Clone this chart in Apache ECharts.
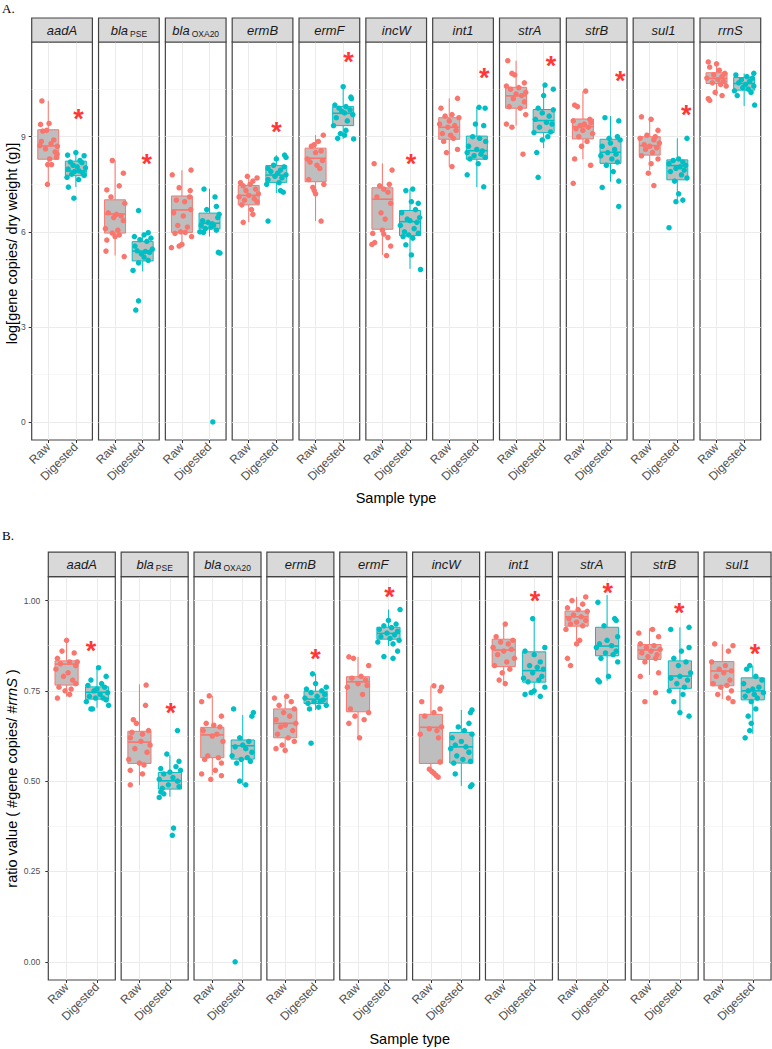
<!DOCTYPE html>
<html><head><meta charset="utf-8">
<script src="https://cdn.jsdelivr.net/npm/echarts@6/dist/echarts.min.js"></script>
<style>html,body{margin:0;padding:0;background:#fff}#c{width:772px;height:1049px}</style>
</head><body><div id="c"></div>
<script>
// ---------------- DATA ----------------
const CATEGORIES = ['Raw', 'Digested'];
const GENES_A = ['aadA','blaPSE','blaOXA20','ermB','ermF','incW','int1','strA','strB','sul1','rrnS'];
const GENES_B = ['aadA','blaPSE','blaOXA20','ermB','ermF','incW','int1','strA','strB','sul1'];
const TICKS_A = [0, 3, 6, 9];
const MINOR_A = [1.5, 4.5, 7.5, 10.5];
const TICKS_B = [0, 0.25, 0.5, 0.75, 1];
const MINOR_B = [0.125, 0.375, 0.625, 0.875];

// box stats: [lower whisker, Q1, median, Q3, upper whisker]
const BOX_A_RAW = [
  [7.48,8.29,8.71,9.22,10.13],[5.25,5.96,6.56,7.01,8.26],[5.57,5.98,6.69,7.13,7.94],[6.30,6.85,7.15,7.46,7.75],
  [6.34,7.58,8.32,8.64,9.05],[5.27,6.08,7.03,7.39,8.16],[8.06,8.92,9.30,9.60,10.21],[9.35,9.90,10.29,10.56,11.40],
  [8.29,8.93,9.32,9.56,10.44],[7.95,8.42,8.72,9.00,9.63],[10.29,10.68,10.84,11.02,11.36]];
const BOX_A_DIG = [
  [7.41,7.77,7.92,8.23,8.48],[4.75,5.08,5.39,5.69,5.97],[5.85,6.09,6.27,6.59,7.36],[7.22,7.56,7.79,8.09,8.42],
  [8.93,9.35,9.74,9.95,10.58],[4.83,5.88,6.32,6.67,7.35],[7.41,8.29,8.56,9.02,9.93],[8.64,9.13,9.51,9.86,10.63],
  [7.58,8.16,8.51,8.92,9.65],[6.93,7.64,8.09,8.27,8.95],[9.97,10.47,10.68,10.87,11.00]];

// jittered points: [offset from category, value]
const PTS_A_RAW = [
  [[-0.23,10.13],[-0.28,9.39],[0.03,9.42],[-0.06,9.2],[-0.2,9.18],[-0.3,8.72],[0.33,8.7],[0.25,8.52],[0.32,8.45],[0.05,8.3],[-0.02,8.12],[0.12,8.12],[-0.1,8.62],[0.2,8.9],[-0.25,8.85],[0.1,8.78],[-0.03,7.5],[0.3,8.35]],
  [[-0.1,8.25],[0.3,7.85],[-0.3,7.32],[0.15,7.45],[-0.15,7.1],[0.35,6.9],[-0.25,6.6],[0.05,6.55],[0.22,6.5],[-0.05,6.45],[0.3,6.35],[-0.35,6.1],[0.1,6.05],[-0.1,5.96],[0.15,5.9],[-0.3,5.74],[0.33,5.22],[-0.33,5.39],[0.0,5.85]],
  [[0.33,7.95],[-0.35,7.8],[-0.1,7.39],[0.3,7.3],[0.28,7.1],[-0.2,7.0],[0.1,6.95],[0.32,6.7],[-0.3,6.6],[0.05,6.5],[-0.15,6.2],[0.2,6.15],[-0.05,6.0],[0.12,5.98],[-0.25,5.95],[0.35,5.85],[-0.38,5.5],[-0.1,5.55],[0.0,5.6]],
  [[-0.05,7.75],[0.3,7.7],[0.15,7.6],[-0.3,7.55],[0.05,7.5],[-0.2,7.45],[0.25,7.35],[-0.1,7.3],[0.35,7.2],[0.0,7.15],[-0.35,7.1],[0.2,7.05],[-0.15,7.0],[0.3,6.95],[-0.25,6.85],[0.1,6.7],[0.15,6.55],[-0.2,6.3]],
  [[0.28,9.05],[0.1,8.85],[-0.05,8.75],[-0.15,8.7],[0.2,8.55],[0.0,8.5],[-0.3,8.3],[0.25,8.25],[-0.2,8.2],[0.05,8.1],[0.15,8.0],[-0.25,7.65],[0.3,7.5],[-0.1,7.4],[-0.05,7.3],[0.0,7.2],[0.2,6.34]],
  [[-0.3,8.15],[0.35,7.95],[0.25,7.5],[-0.1,7.45],[0.05,7.35],[0.2,7.25],[-0.2,7.1],[0.3,6.9],[-0.05,6.6],[0.1,6.4],[0.0,6.05],[-0.35,5.95],[-0.28,5.66],[0.2,5.82],[0.15,5.25],[-0.38,5.6],[0.3,5.55],[0.05,5.93]],
  [[0.3,10.21],[-0.3,9.9],[0.1,9.7],[-0.15,9.65],[0.35,9.6],[0.0,9.5],[-0.35,9.4],[0.2,9.35],[-0.05,9.3],[0.25,9.2],[-0.25,9.1],[0.05,9.05],[0.15,8.95],[-0.2,8.85],[0.3,8.6],[-0.1,8.5],[0.1,8.06]],
  [[-0.3,11.4],[-0.15,11.0],[-0.05,10.95],[0.3,10.7],[-0.35,10.6],[0.1,10.55],[-0.2,10.5],[0.35,10.4],[0.0,10.35],[0.2,10.3],[-0.1,10.2],[0.3,10.1],[-0.25,9.95],[0.15,9.9],[0.35,9.7],[-0.35,9.4],[-0.15,9.3],[0.25,8.45]],
  [[0.1,10.44],[-0.3,10.0],[-0.2,9.95],[0.25,9.55],[-0.35,9.5],[0.3,9.45],[0.05,9.4],[-0.1,9.35],[0.2,9.3],[-0.25,9.25],[0.0,9.2],[0.35,9.1],[-0.15,9.0],[0.15,8.85],[-0.05,8.7],[-0.3,8.3],[0.28,8.1],[-0.35,7.53]],
  [[-0.3,9.63],[0.05,9.55],[0.3,9.2],[-0.1,9.05],[0.2,9.0],[-0.35,8.95],[0.15,8.9],[0.35,8.8],[-0.2,8.75],[0.0,8.7],[0.25,8.65],[-0.15,8.6],[0.1,8.5],[-0.3,8.4],[0.3,8.3],[0.05,8.15],[-0.05,7.85],[0.15,7.46]],
  [[-0.3,11.36],[0.0,11.3],[-0.25,11.2],[0.1,11.1],[0.3,11.0],[-0.1,10.95],[0.2,10.9],[-0.35,10.85],[0.05,10.8],[0.25,10.75],[-0.15,10.7],[0.15,10.65],[0.35,10.6],[-0.05,10.4],[0.2,10.3],[-0.3,10.2],[-0.25,10.15]]
];
const PTS_A_DIG = [
  [[0.0,8.5],[-0.3,8.42],[0.3,8.4],[0.15,8.25],[-0.2,8.2],[0.22,8.18],[-0.1,8.1],[0.05,8.05],[0.35,8.02],[-0.28,7.98],[0.12,7.92],[-0.05,7.9],[0.25,7.86],[-0.15,7.82],[0.3,7.78],[-0.32,7.72],[0.1,7.65],[-0.27,7.41],[-0.07,7.06]],
  [[-0.15,6.67],[0.2,5.97],[0.05,5.9],[-0.3,5.85],[0.3,5.8],[-0.1,5.75],[0.15,5.7],[-0.28,5.55],[0.35,5.45],[-0.2,5.4],[0.1,5.38],[0.25,5.35],[-0.05,5.3],[0.05,5.2],[0.2,5.1],[-0.15,5.02],[-0.35,4.78],[-0.15,3.82],[-0.25,3.53]],
  [[-0.2,7.35],[0.2,7.1],[0.25,6.8],[-0.1,6.7],[0.35,6.55],[0.3,6.45],[-0.25,6.35],[-0.05,6.3],[0.1,6.25],[-0.3,6.2],[0.15,6.2],[0.05,6.15],[-0.15,6.1],[0.25,6.05],[-0.35,6.0],[-0.22,5.98],[0.32,5.35],[0.38,5.33],[0.12,0.0]],
  [[0.3,8.42],[0.35,8.35],[0.0,8.3],[-0.1,8.1],[0.28,8.05],[-0.3,8.0],[0.15,7.95],[-0.2,7.9],[0.05,7.85],[0.35,7.8],[-0.05,7.75],[0.2,7.7],[-0.3,7.65],[0.1,7.55],[-0.35,7.5],[0.15,7.3],[0.25,7.25],[-0.3,6.34]],
  [[0.0,10.58],[0.28,10.25],[0.3,10.2],[-0.3,10.0],[0.1,9.95],[-0.15,9.9],[0.25,9.85],[-0.05,9.8],[0.05,9.75],[0.35,9.7],[-0.25,9.6],[0.15,9.5],[-0.35,9.35],[0.1,9.2],[-0.1,9.1],[0.05,9.05],[-0.2,8.95],[0.38,8.93]],
  [[0.1,7.35],[-0.15,7.3],[0.05,6.95],[0.3,6.9],[0.2,6.7],[-0.3,6.6],[0.35,6.45],[-0.1,6.4],[0.0,6.35],[0.25,6.3],[-0.35,6.2],[0.15,6.1],[-0.2,6.0],[0.3,5.95],[-0.05,5.9],[-0.25,5.85],[0.1,5.8],[-0.15,5.59],[0.05,5.27],[0.38,4.81]],
  [[0.08,9.93],[0.3,9.9],[-0.05,9.4],[0.25,9.35],[-0.15,9.0],[0.1,8.95],[0.32,8.85],[-0.3,8.7],[0.0,8.6],[0.2,8.55],[-0.35,8.5],[0.15,8.45],[-0.1,8.4],[0.3,8.35],[-0.25,8.3],[0.05,8.15],[-0.35,7.8],[0.25,7.42]],
  [[0.05,10.63],[0.35,10.5],[0.0,10.3],[-0.2,9.9],[0.35,9.85],[-0.05,9.75],[0.2,9.65],[-0.3,9.55],[0.1,9.45],[0.3,9.4],[-0.15,9.3],[0.25,9.15],[-0.35,9.13],[0.15,9.0],[-0.05,8.9],[-0.25,8.5],[-0.2,7.72]],
  [[-0.2,9.6],[0.3,9.5],[0.25,9.0],[-0.05,8.95],[0.35,8.9],[0.0,8.8],[-0.3,8.7],[0.15,8.6],[-0.1,8.5],[0.2,8.45],[-0.35,8.4],[0.05,8.3],[0.25,8.2],[-0.15,8.1],[0.1,7.9],[0.3,7.6],[-0.3,7.4],[0.3,6.8]],
  [[0.35,8.95],[0.05,8.3],[-0.15,8.25],[0.2,8.2],[-0.3,8.15],[0.3,8.1],[0.1,8.05],[-0.05,8.0],[0.25,7.95],[-0.25,7.9],[0.15,7.8],[0.35,7.7],[-0.1,7.6],[0.05,7.2],[0.2,7.0],[-0.05,6.95],[-0.3,6.13]],
  [[0.35,11.0],[-0.3,10.95],[0.1,10.9],[0.3,10.85],[-0.1,10.8],[0.2,10.75],[-0.2,10.7],[0.05,10.65],[0.35,10.6],[-0.05,10.55],[0.15,10.5],[-0.35,10.45],[0.25,10.4],[-0.25,10.3],[0.38,10.0]]
];
// significance asterisks: [x, y] or null
const STAR_A = [[2.10,9.76],[2.15,8.32],null,[2.01,9.35],[2.19,11.54],[2.04,8.32],[2.27,11.05],[2.27,11.42],[2.35,10.95],[2.32,9.89],null];

const BOX_B_RAW = [
  [0.734,0.766,0.824,0.833,0.893],[0.489,0.549,0.608,0.638,0.768],[0.517,0.565,0.628,0.649,0.736],[0.583,0.620,0.660,0.700,0.734],
  [0.619,0.692,0.775,0.789,0.844],[0.522,0.549,0.649,0.685,0.764],[0.766,0.817,0.863,0.893,0.935],[0.887,0.929,0.955,0.971,1.010],
  [0.794,0.837,0.863,0.878,0.923],[0.727,0.764,0.805,0.831,0.879]];
const BOX_B_DIG = [
  [0.703,0.727,0.746,0.761,0.814],[0.457,0.478,0.501,0.524,0.572],[0.489,0.561,0.598,0.614,0.683],[0.697,0.715,0.727,0.749,0.797],
  [0.874,0.893,0.909,0.926,0.975],[0.487,0.550,0.595,0.635,0.697],[0.738,0.774,0.806,0.858,0.950],[0.778,0.847,0.874,0.926,1.015],
  [0.685,0.757,0.791,0.833,0.926],[0.631,0.725,0.750,0.786,0.819]];
const PTS_B_RAW = [
  [[0.0,0.89],[-0.15,0.86],[0.25,0.855],[-0.3,0.84],[0.35,0.83],[0.1,0.83],[-0.2,0.825],[0.3,0.82],[-0.35,0.81],[0.05,0.80],[-0.1,0.79],[0.2,0.78],[0.3,0.77],[-0.25,0.76],[0.15,0.755],[-0.05,0.75],[0.1,0.74],[-0.3,0.73]],
  [[0.22,0.766],[0.2,0.71],[-0.2,0.67],[-0.1,0.66],[0.3,0.64],[-0.25,0.635],[0.1,0.63],[-0.3,0.62],[0.05,0.61],[0.35,0.60],[-0.15,0.59],[0.25,0.58],[-0.35,0.56],[0.0,0.55],[0.15,0.545],[-0.3,0.53],[0.1,0.52],[-0.3,0.49]],
  [[-0.1,0.736],[-0.35,0.72],[0.3,0.68],[-0.2,0.66],[0.05,0.655],[0.25,0.65],[-0.3,0.64],[0.15,0.63],[0.0,0.625],[0.35,0.61],[-0.15,0.57],[0.2,0.565],[-0.25,0.56],[0.3,0.55],[0.1,0.53],[-0.35,0.52],[0.3,0.515],[-0.05,0.505]],
  [[0.05,0.735],[-0.35,0.73],[0.2,0.72],[-0.2,0.71],[0.3,0.70],[-0.05,0.69],[0.15,0.68],[-0.3,0.67],[0.35,0.66],[0.0,0.655],[-0.15,0.65],[0.25,0.64],[-0.25,0.63],[0.1,0.62],[0.3,0.61],[-0.1,0.60],[-0.3,0.59],[0.0,0.585]],
  [[-0.3,0.844],[-0.15,0.84],[0.35,0.82],[0.1,0.79],[-0.2,0.785],[0.25,0.78],[0.0,0.77],[0.3,0.765],[-0.35,0.76],[0.15,0.74],[-0.25,0.70],[0.35,0.69],[-0.1,0.68],[0.2,0.67],[-0.3,0.66],[0.05,0.62]],
  [[0.1,0.764],[0.35,0.76],[0.3,0.75],[-0.3,0.72],[0.3,0.70],[0.1,0.69],[-0.2,0.68],[0.35,0.65],[-0.05,0.645],[0.2,0.64],[-0.35,0.63],[0.25,0.62],[-0.05,0.533],[0.03,0.527],[0.1,0.522],[0.17,0.516],[0.24,0.511],[0.3,0.553]],
  [[0.05,0.935],[-0.25,0.90],[0.3,0.89],[-0.1,0.885],[0.15,0.88],[-0.35,0.87],[0.25,0.865],[0.0,0.86],[-0.2,0.85],[0.35,0.84],[0.1,0.83],[-0.3,0.82],[0.2,0.81],[-0.05,0.80],[-0.15,0.78],[0.05,0.77]],
  [[0.3,1.01],[-0.15,1.0],[0.2,0.99],[-0.3,0.98],[0.05,0.975],[0.35,0.97],[-0.1,0.96],[0.15,0.955],[-0.25,0.95],[0.3,0.945],[0.0,0.94],[-0.2,0.935],[0.2,0.93],[-0.35,0.92],[0.1,0.89],[0.0,0.88],[-0.3,0.84],[-0.2,0.82]],
  [[0.1,0.92],[-0.35,0.91],[0.3,0.90],[-0.3,0.88],[0.15,0.875],[-0.1,0.87],[0.35,0.865],[0.05,0.86],[-0.25,0.855],[0.25,0.85],[-0.05,0.845],[0.2,0.84],[-0.15,0.83],[0.3,0.80],[-0.3,0.79],[0.2,0.745],[-0.15,0.72]],
  [[-0.25,0.88],[0.35,0.875],[0.2,0.86],[-0.35,0.83],[0.1,0.82],[-0.1,0.81],[0.3,0.805],[0.05,0.80],[-0.2,0.79],[0.25,0.78],[-0.3,0.77],[0.15,0.765],[-0.05,0.76],[0.3,0.75],[-0.15,0.74],[0.2,0.73],[0.35,0.72]]
];
const PTS_B_DIG = [
  [[0.05,0.814],[0.3,0.79],[-0.2,0.78],[0.15,0.77],[-0.3,0.765],[0.25,0.76],[0.0,0.755],[-0.1,0.75],[0.35,0.745],[0.1,0.74],[-0.25,0.735],[0.2,0.73],[-0.05,0.73],[0.3,0.725],[-0.35,0.72],[0.38,0.71],[-0.2,0.70],[-0.15,0.70]],
  [[0.25,0.64],[-0.1,0.575],[0.3,0.555],[0.2,0.54],[-0.3,0.535],[0.35,0.53],[0.0,0.525],[-0.2,0.52],[0.1,0.51],[-0.35,0.505],[0.25,0.50],[-0.05,0.49],[0.3,0.485],[-0.25,0.48],[-0.3,0.47],[-0.2,0.465],[-0.35,0.455],[0.12,0.37],[0.08,0.35]],
  [[-0.3,0.70],[0.35,0.69],[0.3,0.68],[-0.1,0.62],[0.2,0.61],[0.0,0.60],[-0.25,0.595],[0.1,0.59],[0.3,0.58],[-0.35,0.57],[0.15,0.565],[-0.05,0.56],[0.25,0.555],[-0.2,0.55],[-0.1,0.50],[0.1,0.49],[-0.25,0.0]],
  [[-0.1,0.797],[0.0,0.77],[0.35,0.76],[-0.3,0.755],[0.2,0.75],[-0.15,0.745],[0.3,0.74],[0.05,0.735],[-0.35,0.73],[0.25,0.725],[-0.05,0.72],[0.15,0.72],[-0.25,0.715],[0.35,0.71],[0.1,0.705],[-0.2,0.70],[-0.15,0.605]],
  [[0.38,0.975],[0.0,0.945],[0.25,0.935],[-0.15,0.93],[0.1,0.925],[-0.3,0.92],[0.3,0.915],[-0.05,0.91],[0.2,0.905],[-0.25,0.90],[0.05,0.895],[0.35,0.89],[-0.35,0.885],[0.15,0.88],[0.3,0.86],[-0.15,0.845],[0.15,0.84]],
  [[0.35,0.697],[0.3,0.69],[0.25,0.66],[-0.1,0.65],[0.1,0.64],[0.35,0.63],[-0.3,0.62],[0.0,0.61],[-0.2,0.60],[0.15,0.595],[-0.35,0.59],[0.25,0.58],[-0.15,0.57],[0.05,0.56],[0.3,0.555],[-0.25,0.55],[-0.2,0.52],[0.35,0.49],[0.3,0.485]],
  [[-0.05,0.95],[0.35,0.87],[-0.3,0.86],[0.0,0.85],[0.2,0.83],[-0.15,0.82],[0.1,0.815],[0.3,0.81],[-0.05,0.80],[0.25,0.79],[-0.35,0.785],[0.15,0.78],[-0.2,0.775],[0.35,0.76],[0.0,0.75],[-0.1,0.745],[-0.3,0.74],[0.2,0.735]],
  [[-0.3,0.995],[0.25,0.95],[0.3,0.945],[-0.1,0.93],[0.35,0.90],[0.0,0.89],[-0.25,0.88],[0.15,0.875],[-0.35,0.87],[0.3,0.86],[-0.05,0.855],[0.2,0.85],[-0.2,0.84],[0.35,0.83],[0.05,0.79],[-0.3,0.78],[-0.25,0.775]],
  [[0.3,0.926],[-0.3,0.92],[0.3,0.87],[0.05,0.86],[-0.2,0.84],[0.2,0.83],[-0.05,0.82],[0.35,0.80],[0.0,0.79],[-0.3,0.785],[0.25,0.78],[-0.1,0.77],[0.15,0.76],[-0.35,0.75],[0.1,0.74],[-0.2,0.72],[0.0,0.69],[0.3,0.68]],
  [[-0.1,0.82],[-0.2,0.81],[0.1,0.79],[0.3,0.78],[-0.3,0.77],[0.2,0.76],[0.0,0.755],[-0.15,0.75],[0.35,0.745],[0.05,0.74],[-0.25,0.735],[0.15,0.73],[-0.05,0.72],[0.1,0.70],[-0.15,0.68],[-0.05,0.66],[-0.1,0.64],[-0.25,0.62]]
];
const STAR_B = [[1.80,0.877],[2.03,0.704],null,[2.00,0.854],[2.03,1.026],null,[2.03,1.015],[2.02,1.038],[1.98,0.981],[2.07,0.868]];

// ---------------- STYLE / LAYOUT ----------------
const COLORS = ['#F8766D', '#00BFC4'];
const BOX_FILL = '#BEBEBE';
const BOX_WIDTH = 0.76;
const FONT = "'Liberation Sans', Arial, sans-serif";
const LAYOUT_A = {left0: 31.7, step: 66.83, width: 60.7, top: 42, height: 398, stripH: 24, min: -0.571, max: 11.99, labelMargin: 6};
const LAYOUT_B = {left0: 48.3, step: 72.86, width: 67, top: 576.7, height: 403.3, stripH: 24.5, min: -0.0505, max: 1.066, labelMargin: 8};

function stripText(g) {
  if (g.indexOf('bla') === 0) return '{i|bla}{s|' + g.slice(3) + '}';
  return '{i|' + g + '}';
}

function renderBox(params, api) {
  const x = api.value(0), g = api.value(6), c = COLORS[g], w = BOX_WIDTH / 2;
  const pl = api.coord([x - w, api.value(2)]);
  const pr = api.coord([x + w, api.value(4)]);
  const plo = api.coord([x, api.value(1)]);
  const yhi = api.coord([x, api.value(5)])[1];
  const ymed = api.coord([x, api.value(3)])[1];
  return {type: 'group', children: [
    {type: 'line', shape: {x1: plo[0], y1: pr[1], x2: plo[0], y2: yhi}, style: {stroke: c, lineWidth: 1}},
    {type: 'line', shape: {x1: plo[0], y1: pl[1], x2: plo[0], y2: plo[1]}, style: {stroke: c, lineWidth: 1}},
    {type: 'rect', shape: {x: pl[0], y: pr[1], width: pr[0] - pl[0], height: pl[1] - pr[1]}, style: {fill: BOX_FILL, stroke: c, lineWidth: 1}},
    {type: 'line', shape: {x1: pl[0], y1: ymed, x2: pr[0], y2: ymed}, style: {stroke: c, lineWidth: 1.6}}
  ]};
}

const grids = [], xAxes = [], yAxes = [], series = [], elements = [];

function addPanel(L, genes, boxRaw, boxDig, ptsRaw, ptsDig, stars, ticks, minor, fmt) {
  genes.forEach((g, k) => {
    const gi = grids.length;
    const left = L.left0 + k * L.step;
    grids.push({left: left, top: L.top, width: L.width, height: L.height, show: true,
      borderColor: '#444444', borderWidth: 1.2, backgroundColor: '#ffffff', containLabel: false, outerBoundsMode: 'none'});
    xAxes.push({gridIndex: gi, type: 'value', min: 0.4, max: 2.6, position: 'bottom',
      axisLine: {show: false, onZero: false},
      axisTick: {show: true, customValues: [1, 2], length: 3, lineStyle: {color: '#333333', width: 1}},
      axisLabel: {customValues: [1, 2], formatter: v => CATEGORIES[Math.round(v) - 1], rotate: 45, margin: 5,
        fontSize: 12, color: '#4D4D4D', fontFamily: FONT},
      splitLine: {show: true, lineStyle: {color: '#EBEBEB', width: 1}}});
    const yi = yAxes.length;
    yAxes.push({gridIndex: gi, type: 'value', min: L.min, max: L.max, position: 'left',
      axisLine: {show: false, onZero: false},
      axisTick: {show: k === 0, customValues: ticks, length: 3, lineStyle: {color: '#333333', width: 1}},
      axisLabel: {show: k === 0, customValues: ticks, formatter: fmt, margin: L.labelMargin, fontSize: 8.5, color: '#4D4D4D', fontFamily: FONT},
      splitLine: {show: true, lineStyle: {color: '#EBEBEB', width: 1}}});
    yAxes.push({gridIndex: gi, type: 'value', min: L.min, max: L.max, position: 'left',
      axisLine: {show: false, onZero: false},
      axisTick: {show: false, customValues: minor},
      axisLabel: {show: false, customValues: minor},
      splitLine: {show: true, lineStyle: {color: '#F1F1F1', width: 0.6}}});
    series.push({type: 'custom', xAxisIndex: gi, yAxisIndex: yi, z: 2, silent: true,
      encode: {x: 0, y: [1, 2, 3, 4, 5]},
      data: [[1].concat(boxRaw[k], [0]), [2].concat(boxDig[k], [1])],
      renderItem: renderBox});
    [ptsRaw[k], ptsDig[k]].forEach((pts, gIdx) => {
      series.push({type: 'scatter', xAxisIndex: gi, yAxisIndex: yi, z: 3, silent: true,
        symbolSize: 5.5, itemStyle: {color: COLORS[gIdx], opacity: 1},
        data: pts.map(p => [gIdx + 1 + p[0], p[1]])});
    });
    if (stars[k]) {
      series.push({type: 'scatter', xAxisIndex: gi, yAxisIndex: yi, z: 4, silent: true,
        symbolSize: 1, itemStyle: {color: 'rgba(0,0,0,0)'},
        label: {show: true, formatter: '*', position: 'inside', offset: [0, 6], fontSize: 27, fontWeight: 'bold', color: '#FF0000', fontFamily: FONT},
        data: [stars[k]]});
    }
    elements.push({type: 'rect', shape: {x: left, y: L.top - L.stripH, width: L.width, height: L.stripH},
      style: {fill: '#D9D9D9', stroke: '#444444', lineWidth: 1.2}, z: 10});
    elements.push({type: 'text', x: left + L.width / 2, y: L.top - L.stripH / 2, z: 11,
      style: {text: stripText(g), align: 'center', verticalAlign: 'middle',
        rich: {
          i: {fontStyle: 'italic', fontSize: 13, fontFamily: FONT, fill: '#1A1A1A', lineHeight: 16},
          s: {fontSize: 8.5, fontFamily: FONT, fill: '#1A1A1A', lineHeight: 8, verticalAlign: 'bottom', padding: [0, 0, 0, 2]}
        }}});
  });
}

addPanel(LAYOUT_A, GENES_A, BOX_A_RAW, BOX_A_DIG, PTS_A_RAW, PTS_A_DIG, STAR_A, TICKS_A, MINOR_A, v => String(v));
addPanel(LAYOUT_B, GENES_B, BOX_B_RAW, BOX_B_DIG, PTS_B_RAW, PTS_B_DIG, STAR_B, TICKS_B, MINOR_B, v => v.toFixed(2));

// titles
const titleStyle = {fontSize: 14.5, fontFamily: FONT, fill: '#000000'};
elements.push({type: 'text', x: 2, y: 8, style: {text: 'A.', fontSize: 13, fontFamily: "'Liberation Serif', 'Times New Roman', serif", fill: '#000', align: 'left', verticalAlign: 'middle'}});
elements.push({type: 'text', x: 2, y: 535, style: {text: 'B.', fontSize: 13, fontFamily: "'Liberation Serif', 'Times New Roman', serif", fill: '#000', align: 'left', verticalAlign: 'middle'}});
elements.push({type: 'text', x: 11.5, y: 243.5, rotation: Math.PI / 2,
  style: Object.assign({text: 'log[gene copies/ dry weight (g)]', align: 'center', verticalAlign: 'middle'}, titleStyle)});
elements.push({type: 'text', x: 12, y: 778.5, rotation: Math.PI / 2,
  style: {text: '{n|ratio value ( #gene copies/ #}{i|rrnS}{n| )}', align: 'center', verticalAlign: 'middle',
    rich: {n: {fontSize: 14.5, fontFamily: FONT, fill: '#000'}, i: {fontSize: 14.5, fontFamily: FONT, fontStyle: 'italic', fill: '#000'}}}});
elements.push({type: 'text', x: 396, y: 498, style: Object.assign({text: 'Sample type', align: 'center', verticalAlign: 'middle'}, titleStyle)});
elements.push({type: 'text', x: 409.7, y: 1039, style: Object.assign({text: 'Sample type', align: 'center', verticalAlign: 'middle'}, titleStyle)});

const chart = echarts.init(document.getElementById('c'), null, {renderer: 'svg', width: 772, height: 1049});
chart.setOption({
  animation: false,
  backgroundColor: '#ffffff',
  grid: grids,
  xAxis: xAxes,
  yAxis: yAxes,
  series: series,
  graphic: {elements: elements}
});
</script>
</body></html>
